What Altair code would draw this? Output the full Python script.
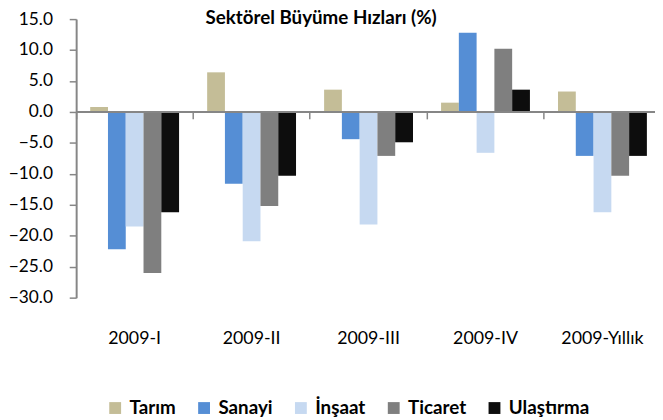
import altair as alt
import pandas as pd

categories = ["2009-I", "2009-II", "2009-III", "2009-IV", "2009-Yıllık"]
sectors = ["Tarım", "Sanayi", "İnşaat", "Ticaret", "Ulaştırma"]
tarim = [0.8, 6.4, 3.6, 1.5, 3.3]
sanayi = [-22.2, -11.6, -4.4, 12.8, -7.1]
insaat = [-18.5, -20.9, -18.2, -6.6, -16.2]
ticaret = [-26.0, -15.2, -7.1, 10.2, -10.3]
ulastirma = [-16.2, -10.3, -4.9, 3.6, -7.1]
colors = ["#C4BD97", "#558ED5", "#C6D9F1", "#7F7F7F", "#0D0D0D"]
y_ticks = [15, 10, 5, 0, -5, -10, -15, -20, -25, -30]

series = [tarim, sanayi, insaat, ticaret, ulastirma]
rows = []
for s, vals in zip(sectors, series):
    for c, v in zip(categories, vals):
        rows.append({"Dönem": c, "Sektör": s, "Değer": v})
df = pd.DataFrame(rows)

FONT = "Lato"
W, H = 586, 282
GRAY = "#868686"

xscale = alt.Scale(domain=categories, range=[0, 592], paddingInner=0, paddingOuter=0)
yscale = alt.Scale(domain=[-30, 15], nice=False, zero=False)
yaxis = alt.Axis(title=None, values=y_ticks, format=".1f", grid=False,
                 labelOverlap=False, tickCount=10,
                 labelFontSize=17.5, labelFont=FONT, labelColor="#000000",
                 tickSize=7, tickColor=GRAY, tickWidth=1.5,
                 domainColor=GRAY, domainWidth=2, labelPadding=17)

bars = alt.Chart(df).mark_bar().encode(
    x=alt.X("Dönem:N", scale=xscale, sort=categories,
            axis=alt.Axis(title=None, orient="bottom", domain=False, ticks=False,
                          labelPadding=32, labelFontSize=18, labelFont=FONT,
                          labelColor="#000000", labelAngle=0)),
    xOffset=alt.XOffset("Sektör:N", sort=sectors,
                        scale=alt.Scale(domain=sectors, paddingInner=0, paddingOuter=0.79)),
    y=alt.Y("Değer:Q", scale=yscale, axis=yaxis),
    color=alt.Color("Sektör:N", sort=sectors,
                    scale=alt.Scale(domain=sectors, range=colors),
                    legend=alt.Legend(title=None, orient="none", direction="horizontal",
                                      legendX=30, legendY=384, symbolType="square",
                                      symbolSize=144, symbolStrokeWidth=0,
                                      labelFontSize=19, labelFontWeight="bold",
                                      labelFont=FONT, labelColor="#000000",
                                      labelOffset=5, columnPadding=19)),
)

zero = alt.Chart(df).mark_rule(color=GRAY, strokeWidth=2).encode(
    y=alt.Y(datum=0, scale=yscale, axis=yaxis)
)

ticks_layer = alt.Chart(df).mark_point(opacity=0).encode(
    x=alt.X("Dönem:N", scale=xscale, sort=categories,
            axis=alt.Axis(title=None, orient="bottom", labels=False, domain=False,
                          ticks=True, bandPosition=0, tickSize=7, tickColor=GRAY,
                          tickWidth=1.5, offset=-(H * 30 / 45), grid=False)),
)

chart = alt.layer(bars, zero, ticks_layer).resolve_axis(x="independent").properties(
    width=W,
    height=H,
    autosize=alt.AutoSizeParams(type="none"),
    padding={"left": 69, "top": 8.7, "right": 0, "bottom": 120},
    title=alt.Title("Sektörel Büyüme Hızları (%)", fontSize=19, fontWeight="bold",
                    font=FONT, color="#000000", anchor="middle", frame="group",
                    dx=-45, offset=0, baseline="alphabetic", dy=33),
).configure_view(stroke=None)

chart.save("out.html", embed_options={"renderer": "svg", "actions": False})
